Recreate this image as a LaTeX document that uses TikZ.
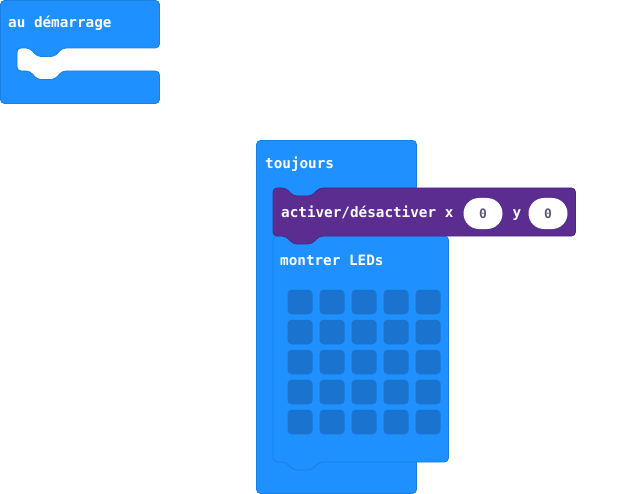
\documentclass[tikz,border=0pt]{standalone}
\usepackage{fontspec}
\newfontfamily\blockfont{DejaVu Sans Mono}
\definecolor{basicblue}{HTML}{1E90FF}
\definecolor{basicline}{HTML}{1B7FE0}
\definecolor{ledblue}{HTML}{1A73CF}
\definecolor{ledpurple}{HTML}{5C2D91}
\definecolor{purpleline}{HTML}{4E2580}
\definecolor{fieldgray}{HTML}{575E75}
\tikzset{
  blueblock/.style={fill=basicblue, draw=basicline, line width=0.8pt, rounded corners=4pt},
  purpleblock/.style={fill=ledpurple, draw=purpleline, line width=0.8pt, rounded corners=4pt},
  label/.style={anchor=base west, inner sep=0pt, text=white,
    font=\blockfont\bfseries\fontsize{14.3}{16}\selectfont},
  pill/.style={fill=white, rounded corners=15.5pt, minimum width=39pt, minimum height=31pt,
    inner sep=0pt, text=fieldgray, font=\blockfont\bfseries\fontsize{13}{15}\selectfont},
  led/.style={fill=ledblue, rounded corners=4pt, minimum width=25pt, minimum height=24.5pt,
    inner sep=0pt}
}
\begin{document}
\begin{tikzpicture}[x=1pt, y=-1pt]
      \useasboundingbox (0,0) rectangle (628,494);
      % au demarrage
      \draw[blueblock] (0.5,0.5) -- (159.5,0.5) -- (159.5,48) -- (62,48) -- (55,56.5) -- (37,56.5)
        -- (30,48) -- (17,48) -- (17,71) -- (30,71) -- (37,79.5) -- (55,79.5) -- (62,71)
        -- (159.5,71) -- (159.5,103.5) -- (0.5,103.5) -- cycle;
      \node[label] (start) at (8,28) {au démarrage};
      % toujours
      \draw[blueblock] (256.5,140.5) rectangle (416.5,493.5);
      \node[label] (forever) at (265,169) {toujours};
      % montrer LEDs
      \draw[blueblock] (273,236) -- (448.5,236) -- (448.5,462) -- (319,462) -- (312,470)
        -- (293,470) -- (286,462) -- (273,462) -- cycle;
      \node[label] (show) at (280,265) {montrer LEDs};
      % activer/desactiver
      \draw[purpleblock] (273,188) -- (286,188) -- (293,196) -- (312,196) -- (319,188)
        -- (575.5,188) -- (575.5,236) -- (319,236) -- (312,244) -- (293,244) -- (286,236)
        -- (273,236) -- cycle;
      \node[label] (toggle) at (281,217) {activer/désactiver x};
      \node[pill] (xval) at (483,213.5) {0};
      \node[label, anchor=base] (ylabel) at (517,217) {y};
      \node[pill] (yval) at (548,213.5) {0};
      % leds
      \path
        (300,302) node[led] (l00){} (332,302) node[led] (l01){} (364,302) node[led] (l02){}
        (396,302) node[led] (l03){} (428,302) node[led] (l04){}
        (300,332) node[led] (l10){} (332,332) node[led] (l11){} (364,332) node[led] (l12){}
        (396,332) node[led] (l13){} (428,332) node[led] (l14){}
        (300,362) node[led] (l20){} (332,362) node[led] (l21){} (364,362) node[led] (l22){}
        (396,362) node[led] (l23){} (428,362) node[led] (l24){}
        (300,392) node[led] (l30){} (332,392) node[led] (l31){} (364,392) node[led] (l32){}
        (396,392) node[led] (l33){} (428,392) node[led] (l34){}
        (300,422) node[led] (l40){} (332,422) node[led] (l41){} (364,422) node[led] (l42){}
        (396,422) node[led] (l43){} (428,422) node[led] (l44){};
    \end{tikzpicture}
\end{document}
